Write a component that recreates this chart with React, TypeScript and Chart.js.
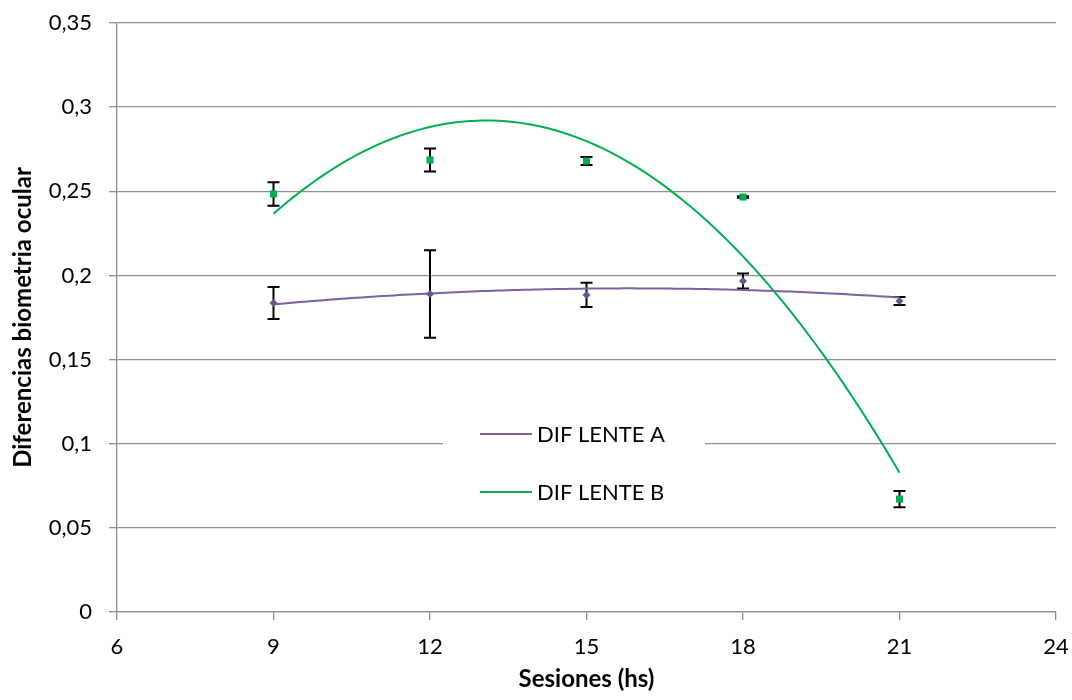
import React, { useEffect, useRef } from "react";
import { Chart, registerables } from "chart.js";

Chart.register(...registerables);

const sessions = [9, 12, 15, 18, 21];
const difA = [0.1836, 0.189, 0.1884, 0.1967, 0.1848];
const errA = [0.0095, 0.026, 0.0072, 0.0045, 0.0024];
const difB = [0.2484, 0.2686, 0.268, 0.2466, 0.0671];
const errB = [0.007, 0.0068, 0.0024, 0.0005, 0.0048];
const seriesNames = ["DIF LENTE A", "DIF LENTE B"];
const xTitle = "Sesiones (hs)";
const yTitle = "Diferencias biometria ocular";

const colorA = "#7a619f";
const markerA = "#6a5590";
const colorB = "#00b050";
const gridColor = "#8e8e8e";
const FONT = "Lato";

// Least-squares polynomial (order 2) trendline, like the spreadsheet's trendline
function quadFit(xs: number[], ys: number[]) {
  let s0 = 0, s1 = 0, s2 = 0, s3 = 0, s4 = 0, t0 = 0, t1 = 0, t2 = 0;
  xs.forEach((x, i) => {
    const y = ys[i];
    s0 += 1; s1 += x; s2 += x * x; s3 += x * x * x; s4 += x * x * x * x;
    t0 += y; t1 += x * y; t2 += x * x * y;
  });
  const M = [
    [s0, s1, s2, t0],
    [s1, s2, s3, t1],
    [s2, s3, s4, t2],
  ];
  for (let c = 0; c < 3; c++) {
    for (let r = c + 1; r < 3; r++) {
      const f = M[r][c] / M[c][c];
      for (let k = c; k < 4; k++) M[r][k] -= f * M[c][k];
    }
  }
  const coef = [0, 0, 0];
  for (let r = 2; r >= 0; r--) {
    let v = M[r][3];
    for (let k = r + 1; k < 3; k++) v -= M[r][k] * coef[k];
    coef[r] = v / M[r][r];
  }
  return (x: number) => coef[0] + coef[1] * x + coef[2] * x * x;
}

function trend(xs: number[], ys: number[]) {
  const f = quadFit(xs, ys);
  const pts: { x: number; y: number }[] = [];
  const lo = xs[0];
  const hi = xs[xs.length - 1];
  const n = 120;
  for (let i = 0; i <= n; i++) {
    const x = lo + ((hi - lo) * i) / n;
    pts.push({ x, y: f(x) });
  }
  return pts;
}

const errorBarPlugin = {
  id: "errorBars",
  beforeDatasetsDraw(chart: any) {
    const { ctx, scales } = chart;
    const xs = scales.x;
    const ys = scales.y;
    ctx.save();
    ctx.strokeStyle = "#000";
    ctx.lineWidth = 2;
    const draw = (vals: number[], errs: number[]) => {
      vals.forEach((v, i) => {
        const px = xs.getPixelForValue(sessions[i]);
        const top = ys.getPixelForValue(v + errs[i]);
        const bot = ys.getPixelForValue(v - errs[i]);
        ctx.beginPath();
        ctx.moveTo(px, top);
        ctx.lineTo(px, bot);
        ctx.moveTo(px - 6, top);
        ctx.lineTo(px + 6, top);
        ctx.moveTo(px - 6, bot);
        ctx.lineTo(px + 6, bot);
        ctx.stroke();
      });
    };
    draw(difA, errA);
    draw(difB, errB);
    ctx.restore();
  },
};

const legendPlugin = {
  id: "insideLegend",
  afterDraw(chart: any) {
    const { ctx } = chart;
    ctx.save();
    ctx.fillStyle = "#ffffff";
    ctx.fillRect(443, 412, 262, 100);
    const items = [
      { label: seriesNames[0], color: colorA, y: 434 },
      { label: seriesNames[1], color: colorB, y: 492 },
    ];
    items.forEach((it) => {
      ctx.strokeStyle = it.color;
      ctx.lineWidth = 2;
      ctx.beginPath();
      ctx.moveTo(480, it.y);
      ctx.lineTo(532, it.y);
      ctx.stroke();
      ctx.fillStyle = "#000";
      ctx.font = `22px ${FONT}`;
      ctx.textAlign = "left";
      ctx.textBaseline = "middle";
      ctx.fillText(it.label, 537, it.y + 1);
    });
    ctx.restore();
  },
};

export default function App() {
  const ref = useRef<HTMLCanvasElement | null>(null);
  useEffect(() => {
    if (!ref.current) return;
    const chart = new Chart(ref.current, {
      type: "scatter",
      data: {
        datasets: [
          {
            label: seriesNames[0] + " trend",
            type: "line",
            data: trend(sessions, difA),
            borderColor: colorA,
            borderWidth: 2,
            pointRadius: 0,
            fill: false,
            tension: 0,
            order: 2,
          } as any,
          {
            label: seriesNames[1] + " trend",
            type: "line",
            data: trend(sessions, difB),
            borderColor: colorB,
            borderWidth: 2,
            pointRadius: 0,
            fill: false,
            tension: 0,
            order: 2,
          } as any,
          {
            label: seriesNames[0],
            data: sessions.map((x, i) => ({ x, y: difA[i] })),
            pointStyle: "rectRot",
            pointRadius: 4,
            backgroundColor: markerA,
            borderColor: markerA,
            borderWidth: 0,
            order: 1,
          },
          {
            label: seriesNames[1],
            data: sessions.map((x, i) => ({ x, y: difB[i] })),
            pointStyle: "rect",
            pointRadius: 5,
            backgroundColor: colorB,
            borderColor: colorB,
            borderWidth: 0,
            order: 1,
          },
        ],
      },
      options: {
        animation: false,
        responsive: false,
        layout: { padding: { top: 23, right: 16, left: 0, bottom: 0 } },
        plugins: {
          legend: { display: false },
          tooltip: { enabled: false },
        },
        scales: {
          x: {
            type: "linear",
            min: 6,
            max: 24,
            ticks: {
              stepSize: 3,
              padding: 14,
              color: "#000",
              font: { family: FONT, size: 22 },
            },
            grid: {
              drawOnChartArea: false,
              drawTicks: true,
              tickLength: 8,
              color: gridColor,
              lineWidth: 1.3,
            },
            border: { display: true, color: gridColor, width: 1.3 },
            title: {
              display: true,
              text: xTitle,
              color: "#000",
              font: { family: FONT, size: 24, weight: "bold" },
              padding: { top: 0, bottom: 6 },
            },
            afterFit: (s: any) => {
              s.height = 88;
              s.paddingLeft = 0;
              s.paddingRight = 0;
            },
          },
          y: {
            min: 0,
            max: 0.35,
            ticks: {
              stepSize: 0.05,
              padding: 17,
              color: "#000",
              font: { family: FONT, size: 22 },
              callback: (v: any) =>
                String(Number(Number(v).toFixed(2))).replace(".", ","),
            },
            grid: {
              drawOnChartArea: true,
              drawTicks: true,
              tickLength: 8,
              color: gridColor,
              lineWidth: 1.3,
            },
            border: { display: true, color: gridColor, width: 1.3 },
            title: {
              display: true,
              text: yTitle,
              color: "#000",
              font: { family: FONT, size: 24, weight: "bold" },
              padding: { top: 9, bottom: 0 },
            },
            afterFit: (s: any) => {
              s.width = 117;
              s.paddingTop = 0;
              s.paddingBottom = 0;
            },
          },
        },
      },
      plugins: [errorBarPlugin, legendPlugin],
    });
    return () => chart.destroy();
  }, []);
  return (
    <div style={{ position: "absolute", left: 0, top: 0, width: 1072, height: 700, background: "#fff" }}>
      <canvas ref={ref} width={1072} height={700} />
    </div>
  );
}
